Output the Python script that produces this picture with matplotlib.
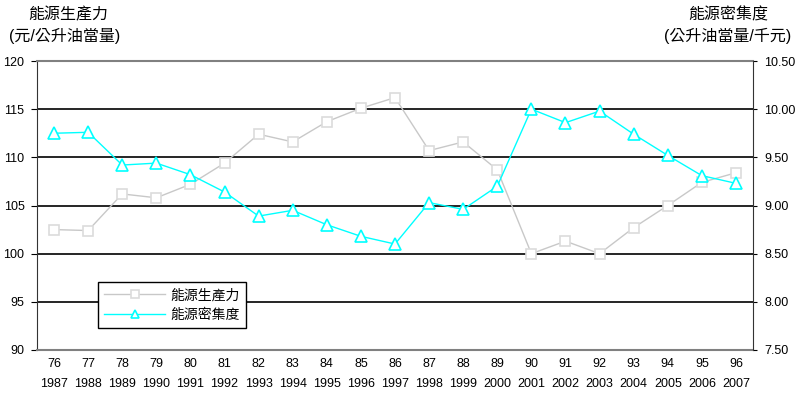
import matplotlib
matplotlib.use("Agg")
import matplotlib.pyplot as plt

plt.rcParams['font.family'] = ['Liberation Sans', 'Noto Sans CJK TC', 'DejaVu Sans']

roc_years = ['76', '77', '78', '79', '80', '81', '82', '83', '84', '85', '86',
             '87', '88', '89', '90', '91', '92', '93', '94', '95', '96']
ad_years = ['1987', '1988', '1989', '1990', '1991', '1992', '1993', '1994', '1995', '1996', '1997',
            '1998', '1999', '2000', '2001', '2002', '2003', '2004', '2005', '2006', '2007']
productivity = [102.5, 102.4, 106.2, 105.8, 107.2, 109.4, 112.4, 111.6, 113.7, 115.1, 116.2,
                110.7, 111.6, 108.7, 100.0, 101.3, 100.0, 102.7, 105.0, 107.4, 108.4]
intensity = [9.75, 9.76, 9.42, 9.44, 9.32, 9.14, 8.89, 8.95, 8.80, 8.68, 8.60,
             9.03, 8.96, 9.20, 10.00, 9.86, 9.98, 9.74, 9.52, 9.31, 9.23]

fig = plt.figure(figsize=(7.98, 3.98), dpi=100)
ax = fig.add_axes([37/798, 48/398, 716/798, 289/398])
ax2 = ax.twinx()

x = list(range(len(roc_years)))
l1, = ax.plot(x, productivity, color='#c8c8c8', lw=1, marker='s', ms=7,
              mfc='white', mec='#dcdcdc', mew=1.2, label='能源生產力', zorder=3)
l2, = ax2.plot(x, intensity, color='#00ffff', lw=1, marker='^', ms=8,
               mfc='white', mec='#00ffff', mew=1.2, label='能源密集度', zorder=3)

ax.set_ylim(90, 120)
ax.set_yticks(range(90, 121, 5))
ax2.set_ylim(7.5, 10.5)
ax2.set_yticks([7.5, 8.0, 8.5, 9.0, 9.5, 10.0, 10.5])
ax2.set_yticklabels(['%.2f' % v for v in ax2.get_yticks()])
ax.set_xlim(-0.5, 20.5)
ax.set_xticks(x)
ax.set_xticklabels([r + '\n' + a for r, a in zip(roc_years, ad_years)], linespacing=1.9)

for yv in range(95, 120, 5):
    ax.axhline(yv, color='black', lw=1.2, zorder=1)
for s in ['top', 'bottom']:
    ax.spines[s].set_color('#808080')
    ax.spines[s].set_linewidth(1.5)
    ax2.spines[s].set_visible(False)
ax2.spines['left'].set_visible(False)
ax.spines['right'].set_visible(False)
ax.spines['left'].set_color('#333333')
ax2.spines['right'].set_color('#333333')

ax.tick_params(axis='y', labelsize=9, length=4, pad=5)
ax2.tick_params(axis='y', labelsize=9, length=3, pad=5)
ax.tick_params(axis='x', labelsize=9, length=0, pad=6)

leg = ax2.legend(handles=[l1, l2], loc='lower left', bbox_to_anchor=(0.085, 0.076),
                 borderaxespad=0, frameon=True, fancybox=False, edgecolor='black',
                 framealpha=1, fontsize=10, handlelength=4.4, borderpad=0.45,
                 labelspacing=0.4, markerscale=0.8, handletextpad=0.4)
leg.get_frame().set_linewidth(1)

fig.text(68/798, 1 - 15/398, '能源生產力', ha='center', va='center', fontsize=11.5)
fig.text(65/798, 1 - 36/398, '(元/公升油當量)', ha='center', va='center', fontsize=11.5)
fig.text(728/798, 1 - 15/398, '能源密集度', ha='center', va='center', fontsize=11.5)
fig.text(728/798, 1 - 36/398, '(公升油當量/千元)', ha='center', va='center', fontsize=11.5)

fig.savefig('out.png', dpi=100)
